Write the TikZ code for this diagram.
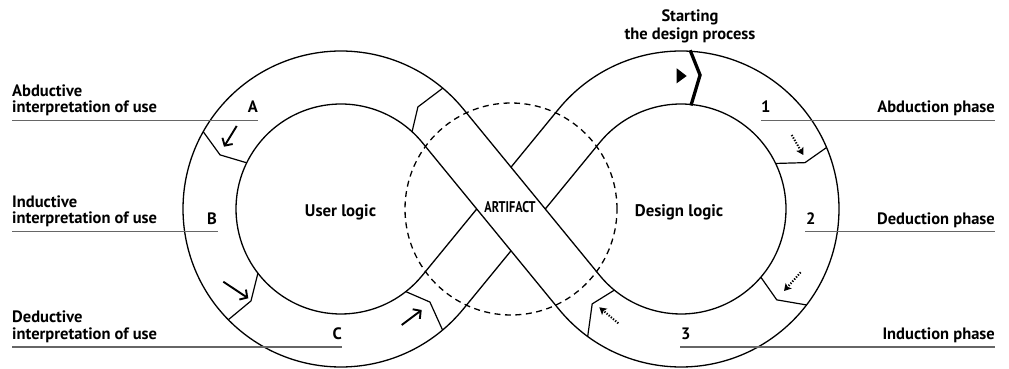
\documentclass[tikz,border=0pt]{standalone}
\usepackage{fontspec}
\setmainfont{PT Sans}
\usepackage{graphicx}
\usetikzlibrary{arrows.meta,calc}
\begin{document}
\begin{tikzpicture}[x=1pt,y=1pt,
  band/.style={line width=1.3pt, black},
  sep/.style={line width=1.2pt, black, line join=miter},
  lab/.style={inner sep=0pt, font=\fontsize{16.5}{18}\selectfont\bfseries, text=black},
  big/.style={inner sep=0pt, font=\fontsize{16.8}{18}\selectfont\bfseries, text=black},
  rulel/.style={line width=1.1pt, black!60},
  solidarr/.style={line width=1.9pt, -{Straight Barb[length=5.5pt,width=12pt]}},
  dotarr/.style={line width=2pt, dash pattern=on 1.3pt off 1.5pt, -{Stealth[length=7pt,width=8pt,inset=1.5pt]}},
  artdash/.style={line width=1.3pt, dash pattern=on 6pt off 4.5pt},
]
\useasboundingbox (0,0) rectangle (1009,369);
\coordinate (CL) at (341,160);
\coordinate (CR) at (681,160);
\coordinate (CM) at (511,160);
% tangent points
\coordinate (LOp) at ([shift={(39.33:158)}]CL);
\coordinate (LOm) at ([shift={(-39.33:158)}]CL);
\coordinate (LIp) at ([shift={(39.33:105)}]CL);
\coordinate (LIm) at ([shift={(-39.33:105)}]CL);
\coordinate (ROp) at ([shift={(140.67:158)}]CR);
\coordinate (ROm) at ([shift={(219.33:158)}]CR);
\coordinate (RIp) at ([shift={(140.67:105)}]CR);
\coordinate (RIm) at ([shift={(219.33:105)}]CR);
\coordinate (KL) at (intersection of LIp--ROm and LIm--ROp);
\coordinate (KR) at (intersection of LOm--RIp and LOp--RIm);
\coordinate (J1) at (intersection of LOm--RIp and LIp--ROm);
\coordinate (J2) at (intersection of LIm--ROp and LOp--RIm);

% artifact circle
\draw[artdash] (CM) circle[radius=106];

% band
\draw[band] (J1) -- (LOm) arc[start angle=-39.33, end angle=-320.67, radius=158]
  -- (RIm) arc[start angle=219.33, end angle=500.67, radius=105] -- (KR);
\draw[band] (KL) -- (LIm) arc[start angle=-39.33, end angle=-320.67, radius=105]
  -- (ROm) arc[start angle=219.33, end angle=500.67, radius=158] -- (J2);

% separators
\draw[sep] ([shift={(150.7:158)}]CL) -- ([shift={(155.9:132.5)}]CL) -- ([shift={(153.9:105)}]CL);
\draw[sep] ([shift={(217.7:105)}]CL) -- ([shift={(225.6:128.7)}]CL) -- ([shift={(224.5:158)}]CL);
\draw[sep] ([shift={(49.9:158)}]CL) -- ([shift={(53:127.8)}]CL) -- ([shift={(47.4:105)}]CL);
\draw[sep] ([shift={(-51.9:105)}]CL) -- ([shift={(-46.3:128.7)}]CL) -- ([shift={(-50:158)}]CL);
\draw[sep] ([shift={(230.6:105)}]CR) -- ([shift={(226.9:130)}]CR) -- ([shift={(233.8:158)}]CR);
\draw[sep] ([shift={(-40.5:105)}]CR) -- ([shift={(-43.5:132)}]CR) -- ([shift={(-37.4:158)}]CR);
\draw[sep] ([shift={(25.7:105)}]CR) -- ([shift={(20.5:132.4)}]CR) -- ([shift={(22.9:158)}]CR);

% start marker
\draw[line width=3.3pt, line join=miter] ([shift={(86.7:159)}]CR) -- ([shift={(81.9:135.3)}]CR) -- ([shift={(84.5:104)}]CR);
\fill (676.7,300.7) -- (686.7,293) -- (676.7,285.7) -- cycle;

% arrows
\coordinate (aAt) at (236.7,243); \coordinate (aAh) at (224,222.3);
\coordinate (aBt) at (223.3,87.3); \coordinate (aBh) at (248.3,70.7);
\coordinate (aCt) at (401.7,44);   \coordinate (aCh) at (421.7,59);
\draw[solidarr] (aAt) -- (aAh);
\draw[solidarr] (aBt) -- (aBh);
\draw[solidarr] (aCt) -- (aCh);
\coordinate (d1t) at (618.3,45.7); \coordinate (d1h) at (599.3,61.7);
\coordinate (d2t) at (800.7,96.7); \coordinate (d2h) at (784,78);
\coordinate (d3t) at (791.7,234);  \coordinate (d3h) at (803.3,214);
\draw[dotarr] (d1t) -- (d1h);
\draw[dotarr] (d2t) -- (d2h);
\draw[dotarr] (d3t) -- (d3h);

% rules
\coordinate (rA0) at (12,248.3); \coordinate (rA1) at (258,248.3);
\coordinate (rB0) at (12,137.3); \coordinate (rB1) at (218,137.3);
\coordinate (rC0) at (12,22);    \coordinate (rC1) at (342,22);
\coordinate (r10) at (761,248.3); \coordinate (r11) at (995,248.3);
\coordinate (r20) at (805,137.3); \coordinate (r21) at (995,137.3);
\coordinate (r30) at (680,22);    \coordinate (r31) at (995,22);
\draw[rulel] (rA0) -- (rA1);
\draw[rulel] (rB0) -- (rB1);
\draw[rulel] (rC0) -- (rC1);
\draw[rulel] (r10) -- (r11);
\draw[rulel] (r20) -- (r21);
\draw[rulel] (r30) -- (r31);

% left labels
\node[lab, anchor=base west] (abd1) at (12,272) {Abductive};
\node[lab, anchor=base west] (abd2) at (12,256) {interpretation of use};
\node[lab, anchor=base east] (la) at (258,256) {A};
\node[lab, anchor=base west] (ind1) at (12,161) {Inductive};
\node[lab, anchor=base west] (ind2) at (12,145) {interpretation of use};
\node[lab, anchor=base east] (lb) at (217,144) {B};
\node[lab, anchor=base west] (ded1) at (12,46) {Deductive};
\node[lab, anchor=base west] (ded2) at (12,29) {interpretation of use};
\node[lab, anchor=base east] (lc) at (342,29) {C};
% right labels
\node[lab, anchor=base west] (n1) at (761,256) {1};
\node[lab, anchor=base east] (p1) at (995,256) {Abduction phase};
\node[lab, anchor=base west] (n2) at (806,144) {2};
\node[lab, anchor=base east] (p2) at (995,144) {Deduction phase};
\node[lab, anchor=base west] (n3) at (681,29) {3};
\node[lab, anchor=base east] (p3) at (995,29) {Induction phase};
\node[lab, anchor=base] (st1) at (690,347) {Starting};
\node[lab, anchor=base] (st2) at (690,329) {the design process};
% inner labels
\node[big, anchor=base] (ul) at (340.5,152.3) {User logic};
\node[big, anchor=base] (dl) at (679,152.3) {Design logic};
\node[lab, anchor=base] (art) at (510,156.3) {\scalebox{0.79}[1]{\fontsize{15.5}{17}\selectfont ARTIFACT}};
\end{tikzpicture}
\end{document}
